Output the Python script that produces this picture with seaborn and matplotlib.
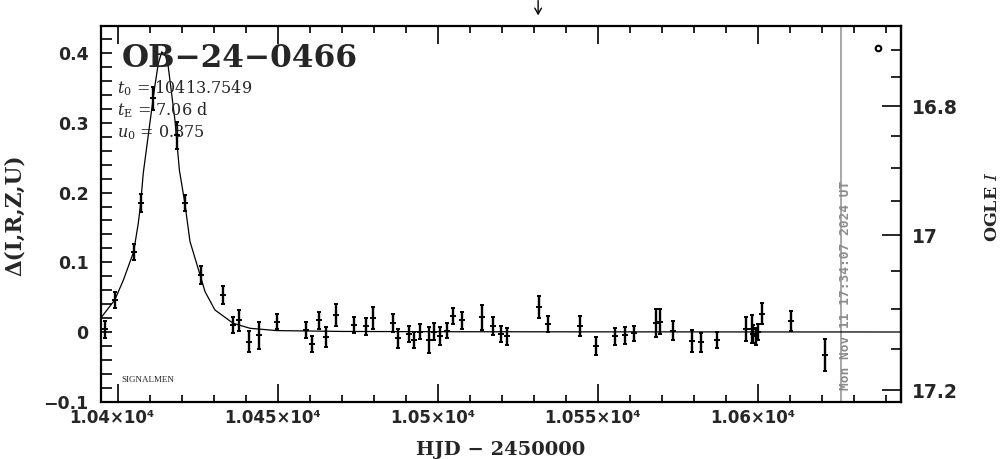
import numpy as np
import pandas as pd
import seaborn as sns
import matplotlib
matplotlib.use("Agg")
import matplotlib.pyplot as plt
from matplotlib.ticker import MultipleLocator, FuncFormatter, FixedLocator
from matplotlib.transforms import ScaledTranslation

# ---------------- data ----------------
obs_t = [10395.8, 10398.9, 10404.8, 10407.0, 10411.0, 10418.4, 10420.8, 10425.8,
         10432.8, 10435.7, 10437.7, 10441.0, 10444.1, 10449.7, 10458.6, 10460.6,
         10462.8, 10464.9, 10467.9, 10473.7, 10477.4, 10479.7, 10485.7, 10487.5,
         10490.7, 10492.5, 10494.3, 10497.2, 10498.8, 10500.5, 10502.6, 10504.5,
         10507.3, 10513.6, 10517.2, 10519.5, 10521.4, 10531.5, 10534.4, 10544.3,
         10549.3, 10555.2, 10558.3, 10561.2, 10568.0, 10569.3, 10573.4, 10579.4,
         10582.1, 10587.2, 10596.2, 10598.0, 10598.5, 10599.3, 10600.0, 10601.3,
         10610.1, 10620.8]
obs_d = [0.004, 0.046, 0.115, 0.185, 0.335, 0.282, 0.185, 0.082,
         0.053, 0.010, 0.017, -0.014, -0.005, 0.015, 0.003, -0.017,
         0.017, -0.007, 0.024, 0.010, 0.008, 0.020, 0.0125, -0.009,
         -0.003, -0.0115, 0.0005, -0.0115, 0.0005, -0.006, 0.002, 0.023,
         0.017, 0.021, 0.009, -0.003, -0.006, 0.036, 0.0115, 0.0086,
         -0.020, -0.006, -0.005, -0.002, 0.0125, 0.015, 0.002, -0.0125,
         -0.015, -0.0115, 0.0043, 0.004, -0.003, -0.006, 0.000, 0.026,
         0.016, -0.033]
obs_e = [0.012, 0.011, 0.0115, 0.013, 0.017, 0.019, 0.012, 0.013,
         0.0125, 0.012, 0.015, 0.015, 0.020, 0.011, 0.011, 0.011,
         0.012, 0.014, 0.016, 0.012, 0.012, 0.016, 0.013, 0.0136,
         0.011, 0.011, 0.011, 0.018, 0.012, 0.013, 0.011, 0.011,
         0.012, 0.018, 0.013, 0.011, 0.012, 0.016, 0.011, 0.014,
         0.013, 0.012, 0.012, 0.011, 0.020, 0.018, 0.014, 0.016,
         0.014, 0.012, 0.017, 0.020, 0.013, 0.012, 0.012, 0.015,
         0.014, 0.0225]

model_t = [10394.6, 10398.9, 10401.6, 10404.8, 10406.25, 10407.0, 10407.8, 10410.0,
           10411.4, 10412.5, 10413.6, 10414.8, 10415.6, 10417.7, 10419.1, 10420.8,
           10422.4, 10425.75, 10427.1, 10430.2, 10435.9, 10441.2, 10449.5, 10470.0,
           10500.0, 10550.0, 10644.6]
model_d = [0.0205, 0.046, 0.0746, 0.115, 0.156, 0.1846, 0.2277, 0.304,
           0.352, 0.385, 0.402, 0.396, 0.381, 0.304, 0.232, 0.185,
           0.13, 0.079, 0.058, 0.0316, 0.0125, 0.0053, 0.002, 0.0008,
           0.0004, 0.0002, 0.0]

ogle_marker_t = [10637.5]
ogle_marker_d = [0.407]

arrow_t = 10531.2
now_t = 10626.0

x_major = [10400, 10450, 10500, 10550, 10600]
mag_ticks = [16.8, 17.0, 17.2]

event_name = "OB\u221224\u22120466"
param_lines = [r"$t_{\rm 0}$ = 10413.7549", r"$t_{\rm E}$ = 7.06 d", r"$u_{\rm 0}$ = 0.875"]
stamp = "Mon Nov 11 17:34:07 2024 UT"

# ---------------- style ----------------
sns.set_theme(style="white")
plt.rcParams["font.family"] = ["DejaVu Sans"]
plt.rcParams["mathtext.fontset"] = "custom"
plt.rcParams["mathtext.rm"] = "DejaVu Serif"
plt.rcParams["mathtext.it"] = "DejaVu Serif:italic"
plt.rcParams["axes.unicode_minus"] = True

fig = plt.figure(figsize=(10.04, 4.59), dpi=100)
fig.patch.set_facecolor("white")
ax = fig.add_axes([101 / 1004, 1 - 401.7 / 459, 800 / 1004, 375.7 / 459])
ax.set_facecolor("white")

df_model = pd.DataFrame({"t": model_t, "d": model_d})
sns.lineplot(data=df_model, x="t", y="d", ax=ax, color="black", linewidth=0.9,
             estimator=None, sort=False)

ax.errorbar(obs_t, obs_d, yerr=obs_e, fmt="none", ecolor="black",
            elinewidth=1.7, capsize=1.6, capthick=1.4, zorder=3)
df_obs = pd.DataFrame({"t": obs_t, "d": obs_d})
sns.scatterplot(data=df_obs, x="t", y="d", ax=ax, marker="_", s=14,
                color="black", linewidth=1.4, zorder=4)

ax.plot(ogle_marker_t, ogle_marker_d, marker="o", ms=4, mfc="white",
        mec="black", mew=1.5, ls="none")

ax.set_xlim(10394.6, 10644.6)
ax.set_ylim(-0.1, 0.439)
ax.set_ylabel("")

# vertical "now" line and stamp
ax.axvline(now_t, color="#8f8f8f", lw=1.1, zorder=1)
ax.text(now_t + 1.2, 0.031, stamp, transform=ax.get_xaxis_transform(),
        rotation=90, ha="center", va="bottom", color="#8c8c8c",
        fontsize=9.3, fontweight="bold", family="DejaVu Sans Mono")

# arrow above the plot
ax.annotate("", xy=(arrow_t, 1.021), xytext=(arrow_t, 1.075),
            xycoords=("data", "axes fraction"), textcoords=("data", "axes fraction"),
            arrowprops=dict(arrowstyle="->,head_length=0.35,head_width=0.2",
                            color="black", lw=1.0), annotation_clip=False)

# texts
ax.text(0.026, 0.891, event_name, transform=ax.transAxes, ha="left", va="baseline",
        fontsize=22.5, fontweight="bold", family="DejaVu Serif")
for i, line in enumerate(param_lines):
    ax.text(0.02, 0.835 - 0.06 * i, line, transform=ax.transAxes, ha="left",
            va="center", fontsize=11.5, family="DejaVu Serif")
ax.text(0.026, 0.058, "SIGNALMEN", transform=ax.transAxes, ha="left",
        va="center", fontsize=6.5, family="Liberation Serif")

# axes / ticks
for s in ax.spines.values():
    s.set_linewidth(1.6)
    s.set_color("black")

ax.xaxis.set_major_locator(FixedLocator(x_major))
ax.xaxis.set_minor_locator(MultipleLocator(10))
ax.yaxis.set_major_locator(MultipleLocator(0.1))
ax.yaxis.set_minor_locator(MultipleLocator(0.02))


def xfmt(v, pos):
    return f"{v / 1e4:g}\u00d710\u2074"


def yfmt(v, pos):
    s = f"{round(v, 3):g}"
    return s.replace("-", "\u2212")


ax.xaxis.set_major_formatter(FuncFormatter(xfmt))
ax.yaxis.set_major_formatter(FuncFormatter(yfmt))

ax.tick_params(axis="x", which="major", direction="in", length=13, width=1.4,
               top=True, bottom=True, labelsize=12, pad=5)
ax.tick_params(axis="x", which="minor", direction="in", length=5, width=1.4,
               top=True, bottom=True)
ax.tick_params(axis="y", which="major", direction="in", length=8, width=1.4,
               left=True, right=False, labelsize=12.5, pad=9)
ax.tick_params(axis="y", which="minor", direction="in", length=8, width=1.4,
               left=True, right=False)
for lbl in ax.get_xticklabels() + ax.get_yticklabels():
    lbl.set_fontweight("bold")

ax.set_xlabel("HJD \u2212 2450000", fontsize=14, fontweight="bold", family="DejaVu Serif")
ax.xaxis.set_label_coords(0.499, -0.105)
ax.text(-0.108, 0.497, "\u0394(I,R,Z,U)", transform=ax.transAxes, rotation=90,
        ha="center", va="center", fontsize=15.5, fontweight="bold", family="DejaVu Serif")

# right magnitude axis
A_, C_ = 1.239, 1.1


def d2m(d):
    d = np.asarray(d, dtype=float)
    return 17 + 2.5 * np.log10(np.clip((A_ - d) / C_, 1e-6, None))


def m2d(m):
    m = np.asarray(m, dtype=float)
    return A_ - C_ * 10 ** (0.4 * (m - 17))


sec = ax.secondary_yaxis("right", functions=(d2m, m2d))
sec.yaxis.set_major_locator(FixedLocator(mag_ticks))
sec.yaxis.set_minor_locator(MultipleLocator(0.05))
sec.yaxis.set_major_formatter(FuncFormatter(lambda v, p: f"{v:g}"))
sec.tick_params(axis="y", which="major", direction="in", length=14, width=1.4,
                labelsize=13.5, pad=8)
sec.tick_params(axis="y", which="minor", direction="in", length=7, width=1.4)
for s in sec.spines.values():
    s.set_linewidth(1.6)
for lbl in sec.get_yticklabels():
    lbl.set_fontweight("bold")
ax.text(1.115, 0.518, "OGLE $I$", transform=ax.transAxes, rotation=90,
        ha="center", va="center", fontsize=12.5, fontweight="bold", family="DejaVu Serif")

fig.canvas.draw()
off = ScaledTranslation(-6 / 100, 0, fig.dpi_scale_trans)
for tick in ax.xaxis.get_major_ticks():
    tick.label1.set_transform(tick.label1.get_transform() + off)

fig.savefig("out.png", dpi=100, facecolor="white")
